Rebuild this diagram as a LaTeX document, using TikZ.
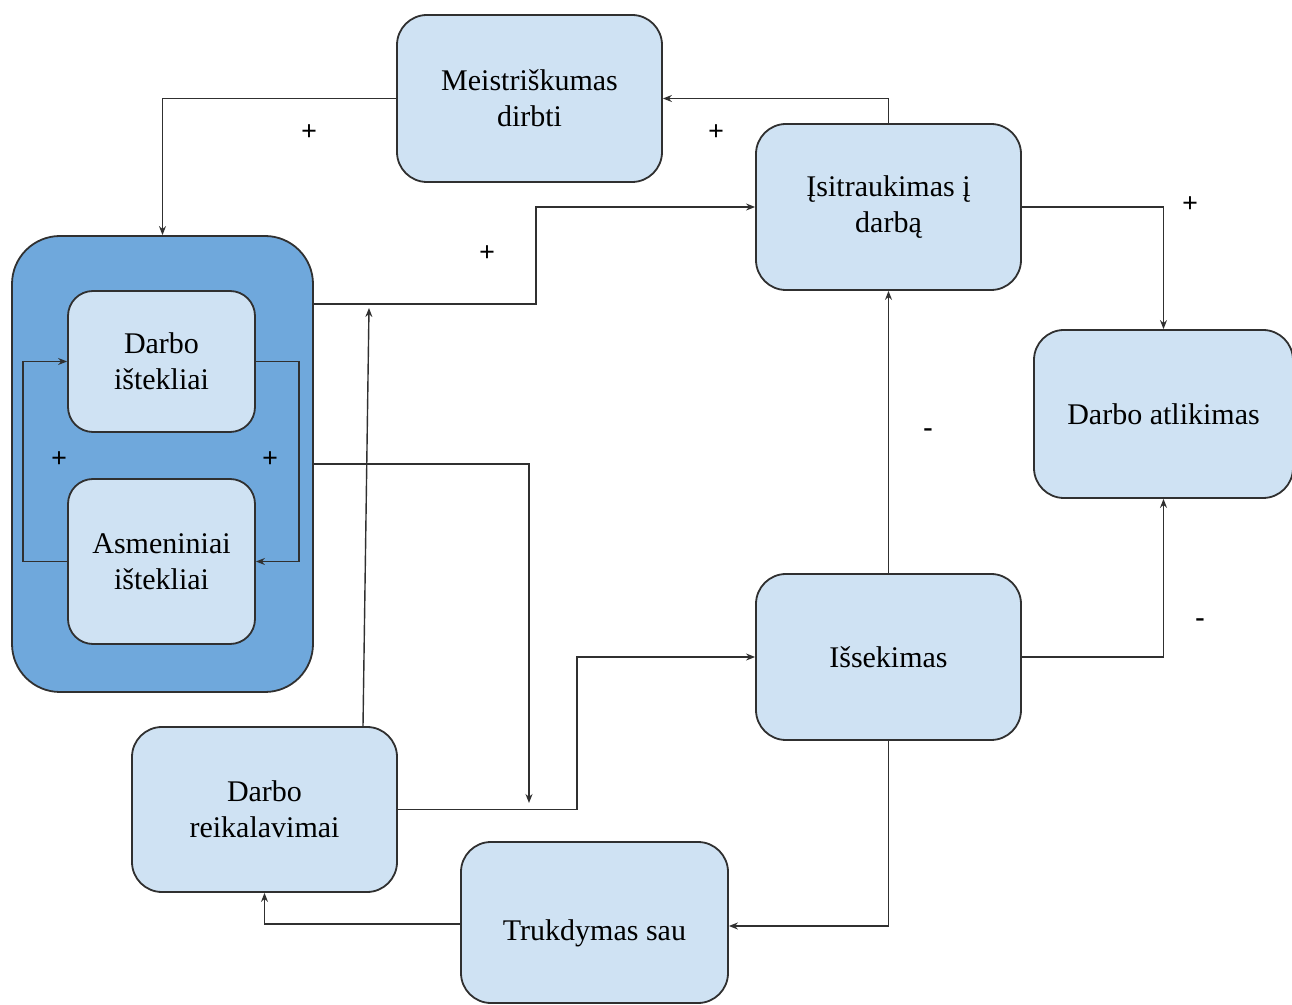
\documentclass[tikz,border=0pt]{standalone}
\usepackage{fontspec}
\setmainfont{Liberation Serif}
\usetikzlibrary{arrows.meta}
\definecolor{lb}{HTML}{CFE2F3}
\definecolor{db}{HTML}{6FA8DC}
\definecolor{edge}{HTML}{303030}
\begin{document}
\begin{tikzpicture}[x=0.5pt,y=-0.5pt,
  box/.style={draw=edge, line width=0.9pt, rounded corners=15pt, fill=lb, align=center,
    font=\fontsize{15}{18}\selectfont, inner sep=0pt},
  outerbox/.style={draw=edge, line width=0.9pt, rounded corners=24pt, fill=db, inner sep=0pt},
  arr/.style={draw=edge, line width=0.7pt, -{Stealth[length=4.5pt,width=3.5pt]}},
  sign/.style={font=\fontsize{14}{16}\selectfont\bfseries, inner sep=0pt}]
\useasboundingbox (0,0) rectangle (1292,1005);
% nodes
\node[box, minimum width=132.5pt, minimum height=83.5pt] (meis) at (529.5,98.5) {Meistriškumas\\dirbti};
\node[box, minimum width=132.5pt, minimum height=83pt] (isit) at (888.5,207) {Įsitraukimas į\\darbą};
\node[box, minimum width=129.5pt, minimum height=84pt] (atl) at (1163.5,414) {Darbo atlikimas};
\node[outerbox, minimum width=150.5pt, minimum height=228pt] (big) at (162.5,464) {};
\node[box, rounded corners=12.5pt, minimum width=93.5pt, minimum height=70.5pt] (di) at (161.5,361.5) {Darbo\\ištekliai};
\node[box, rounded corners=12.5pt, minimum width=93.5pt, minimum height=82.5pt] (ai) at (161.5,561.5) {Asmeniniai\\ištekliai};
\node[box, minimum width=132.5pt, minimum height=83pt] (isek) at (888.5,657) {Išsekimas};
\node[box, minimum width=132.5pt, minimum height=82.5pt] (dr) at (264.5,809.5) {Darbo\\reikalavimai};
\node[box, minimum width=133.5pt, minimum height=80.5pt, text height=17.5pt, text depth=0pt] (tr) at (594.5,922.5) {Trukdymas sau};
% free ends
\coordinate (c4) at (529,803);
\coordinate (c5) at (369,308);
% connectors
\draw[arr] (meis.west) -| (big.north);
\draw[arr] (isit.north) |- (meis.east);
\draw[arr] (big.east |- 0,304) -- (536,304) |- (isit.west);
\draw[arr] (big.east) -| (c4);
\draw[arr] (dr.north -| 363,0) -- (c5);
\draw[arr] (dr.east) -| (577,657) -- (isek.west);
\draw[arr] (isek.north) -- (isit.south);
\draw[arr] (isek.east) -| (atl.south);
\draw[arr] (isit.east) -| (atl.north);
\draw[arr] (isek.south) |- (tr.east |- 0,926);
\draw[arr] (tr.west |- 0,924) -| (dr.south);
\draw[arr] (di.east) -- ++(43,0) |- (ai.east);
\draw[arr] (ai.west) -- ++(-44,0) |- (di.west);
% signs
\node[sign] (s1) at (309,133) {+};
\node[sign] (s2) at (716,133) {+};
\node[sign] (s3) at (487,254) {+};
\node[sign] (s4) at (1190,205) {+};
\node[sign] (s5) at (59,460) {+};
\node[sign] (s6) at (270,460) {+};
\node[sign] (s7) at (928,433) {-};
\node[sign] (s8) at (1200,623) {-};
\end{tikzpicture}
\end{document}
